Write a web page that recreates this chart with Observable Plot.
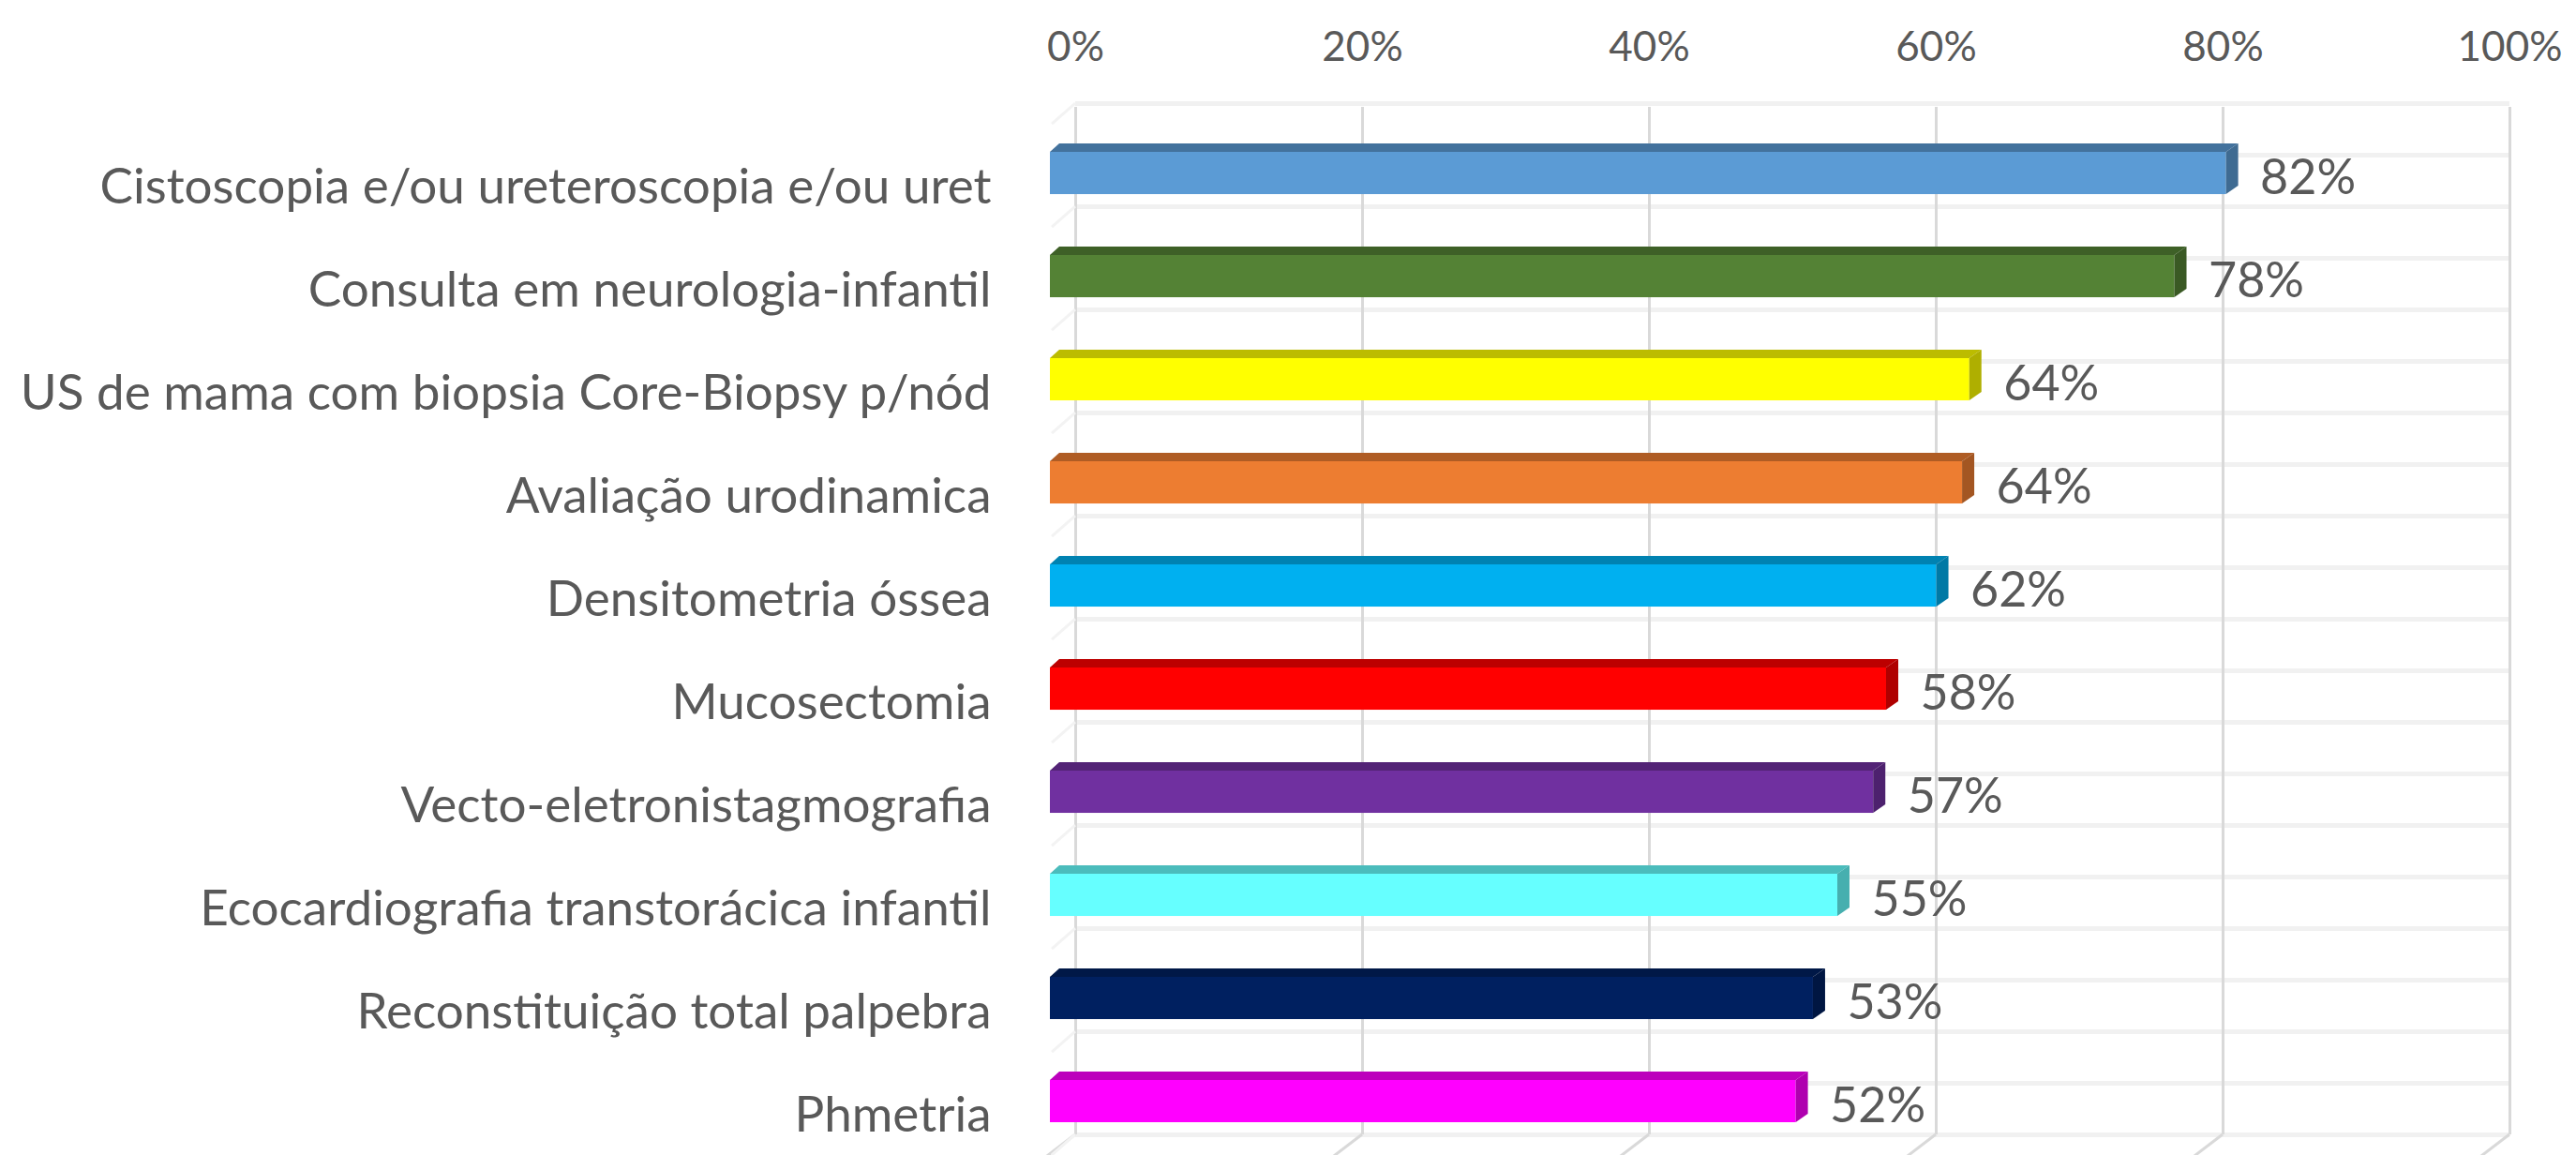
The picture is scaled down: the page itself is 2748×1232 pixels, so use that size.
<!DOCTYPE html>
<html>
<head>
<meta charset="utf-8">
<script src="https://cdn.jsdelivr.net/npm/d3@7"></script>
<script src="https://cdn.jsdelivr.net/npm/@observablehq/plot@0.6"></script>
<style>
  html, body { margin: 0; padding: 0; background: #ffffff; }
  #chart { width: 2748px; height: 1232px; }
</style>
</head>
<body>
<div id="chart"></div>
<script>
// ---- data ----
const categories = [
  "Cistoscopia e/ou ureteroscopia e/ou uret",
  "Consulta em neurologia-infantil",
  "US de mama com biopsia Core-Biopsy p/nód",
  "Avaliação urodinamica",
  "Densitometria óssea",
  "Mucosectomia",
  "Vecto-eletronistagmografia",
  "Ecocardiografia transtorácica infantil",
  "Reconstituição total palpebra",
  "Phmetria"
];
const values = [0.82, 0.784, 0.641, 0.636, 0.618, 0.583, 0.574, 0.549, 0.532, 0.52];
const colors = ["#5b9bd5", "#548235", "#ffff00", "#ed7d31", "#00b0f0",
                "#ff0000", "#7030a0", "#66ffff", "#002060", "#ff00ff"];
const xTicks = [0, 0.2, 0.4, 0.6, 0.8, 1];

// ---- layout ----
const W = 2748, H = 1232;
const mTop = 114, mBottom = 22, mLeft = 1120, mRight = 98;
const yTopVal = -0.641, yBottomVal = 9.323;   // band index range of the frame
const barHalf = 0.205;                         // half-height of the front face (index units)
const backDx = 27;                             // back wall offset in px
const depthX = 13, depthY = 9;                 // 3D depth of the bars in px
const textColor = "#595959";
const font = "Lato";

const data = categories.map((c, i) => ({c, i, v: values[i], color: colors[i]}));
const backLines = d3.range(-0.677, 9.4, 0.5);

// floor slants of the gridlines (drawn through the scales)
function floorSlants(index, scales) {
  const g = d3.create("svg:g");
  const yb = scales.y(yBottomVal);
  for (const t of xTicks) {
    const x = scales.x(t) + backDx;
    g.append("line").attr("x1", x).attr("y1", yb).attr("x2", x - 34).attr("y2", yb + 26)
      .attr("stroke", "#d9d9d9").attr("stroke-width", 3);
  }
  // left side wall edges
  for (const yv of backLines) {
    const y = scales.y(yv);
    g.append("line").attr("x1", scales.x(0) + backDx).attr("y1", y)
      .attr("x2", scales.x(0) + 2).attr("y2", y + 22)
      .attr("stroke", "#f3f3f3").attr("stroke-width", 3);
  }
  return g.node();
}

// top and side faces of the 3D bars
function barFaces(index, scales) {
  const g = d3.create("svg:g");
  for (const d of data) {
    const x0 = scales.x(0), x1 = scales.x(d.v);
    const yt = scales.y(d.i - barHalf), yb = scales.y(d.i + barHalf);
    const top = Math.min(yt, yb), bot = Math.max(yt, yb);
    const c = d3.color(d.color);
    g.append("path")
      .attr("d", `M${x0},${top}L${x0 + 10},${top - depthY}L${x1 + depthX},${top - depthY}L${x1},${top}Z`)
      .attr("fill", c.darker(0.85).formatHex());
    g.append("path")
      .attr("d", `M${x1},${top}L${x1 + depthX},${top - depthY}L${x1 + depthX},${bot - depthY}L${x1},${bot}Z`)
      .attr("fill", c.darker(1.05).formatHex());
  }
  return g.node();
}

const chart = Plot.plot({
  width: W,
  height: H,
  marginTop: mTop,
  marginBottom: mBottom,
  marginLeft: mLeft,
  marginRight: mRight,
  style: {fontFamily: font, fontSize: "50px", color: textColor, background: "#ffffff"},
  x: {domain: [0, 1]},
  y: {domain: [yBottomVal, yTopVal]},
  marks: [
    Plot.ruleY(backLines, {y: d => d, x1: 0, x2: 1, dx: backDx, stroke: "#f1f1f1", strokeWidth: 5}),
    Plot.ruleX(xTicks, {x: d => d, dx: backDx, stroke: "#d9d9d9", strokeWidth: 3}),
    floorSlants,
    Plot.axisX(xTicks, {anchor: "top", tickSize: 0, tickPadding: 50, dx: backDx,
      tickFormat: d3.format(".0%"), label: null, fontSize: 44, fill: textColor}),
    Plot.axisY(d3.range(categories.length), {anchor: "left", tickSize: 0, tickPadding: 63, dy: 15,
      tickFormat: i => categories[i], label: null, fontSize: 53, fill: textColor}),
    Plot.rect(data, {x1: 0, x2: "v", y1: d => d.i - barHalf, y2: d => d.i + barHalf, fill: "color"}),
    barFaces,
    Plot.text(data, {x: "v", y: "i", text: d => d3.format(".0%")(d.v), textAnchor: "start",
      dx: 36, dy: 5, fontSize: 52, fill: textColor})
  ]
});
document.getElementById("chart").appendChild(chart);
</script>
</body>
</html>
